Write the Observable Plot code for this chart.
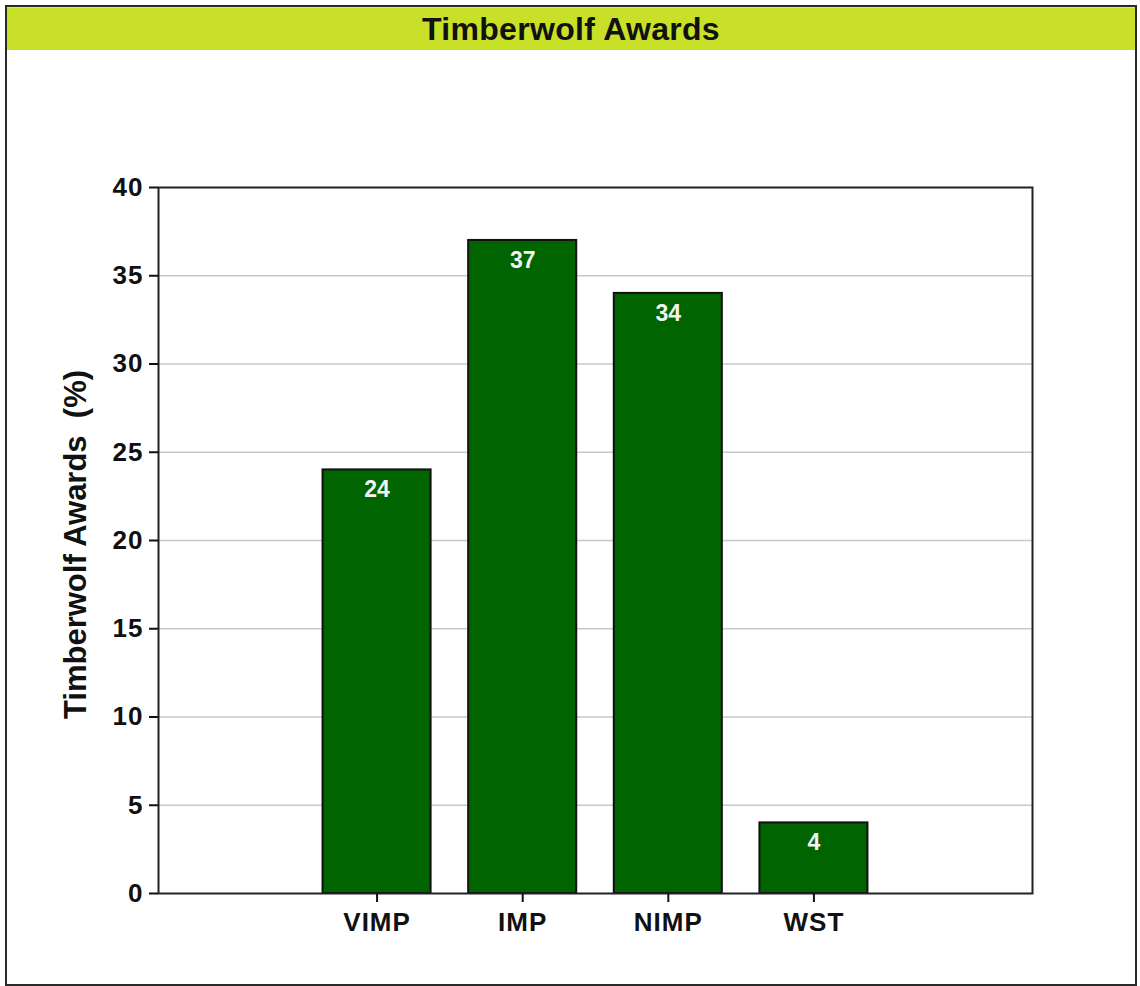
<!DOCTYPE html>
<html>
<head>
<meta charset="utf-8">
<script src="https://cdn.jsdelivr.net/npm/d3@7"></script>
<script src="https://cdn.jsdelivr.net/npm/@observablehq/plot@0.6"></script>
<style>
  html, body { margin: 0; padding: 0; background: #fff; }
  #wrap { position: relative; width: 1140px; height: 986px; overflow: hidden; }
  #box { position: absolute; left: 5px; top: 5px; width: 1128px; height: 977px; border: 2px solid #2a2a2a; background: #fff; }
  #title { position: absolute; left: 0; top: 0; width: 100%; height: 43px; background: #c8e028; border-top: 1px solid #d9ec6a; box-sizing: border-box;
           font: bold 32px "Liberation Sans", Arial, sans-serif; letter-spacing: 0.3px; color: #111; text-align: center; line-height: 43px; }
  #chart { position: absolute; left: 0; top: 43px; }
  g[aria-label="bar-label"] text { letter-spacing: 2px; }
  g[aria-label="y-axis tick label"] text, g[aria-label="x-axis tick label"] text { letter-spacing: 1px; }
</style>
</head>
<body>
<div id="wrap">
  <div id="box">
    <div id="title">Timberwolf Awards</div>
    <div id="chart"></div>
  </div>
</div>
<script>
const categories = ["VIMP", "IMP", "NIMP", "WST"];
const values = [24, 37, 34, 4];
const yTicks = [0, 5, 10, 15, 20, 25, 30, 35, 40];
const gridTicks = [5, 10, 15, 20, 25, 30, 35];
const yLabel = "Timberwolf Awards\u00a0 (%)";

const data = categories.map((c, i) => ({cat: c, value: values[i]}));

const chart = Plot.plot({
  width: 1128,
  height: 934,
  marginLeft: 151,
  marginRight: 103,
  marginTop: 137,
  marginBottom: 91,
  style: "background: transparent; overflow: visible; font-family: 'Liberation Sans', Arial, sans-serif; color: #111;",
  x: {domain: categories, paddingInner: 0.258, paddingOuter: 1.13, round: false, label: null},
  y: {domain: [0, 40], label: null},
  marks: [
    Plot.gridY(gridTicks, {stroke: "#c8c8c8", strokeOpacity: 1, strokeWidth: 1.5}),
    Plot.barY(data, {x: "cat", y: "value", fill: "#006400", stroke: "#111", strokeWidth: 2}),
    Plot.text(data, {x: "cat", y: "value", text: d => String(d.value), lineAnchor: "top", dy: 11, fill: "#f2f2f2", fontSize: 23, fontWeight: "bold", ariaLabel: "bar-label"}),
    Plot.frame({stroke: "#222", strokeWidth: 2}),
    Plot.axisY(yTicks, {tickSize: 9, tickPadding: 6, fontSize: 26, fontWeight: "bold", strokeWidth: 2, label: null, tickFormat: d => String(d)}),
    Plot.axisX({tickSize: 9, tickPadding: 10, fontSize: 26, fontWeight: "bold", strokeWidth: 2, label: null}),
    Plot.text([yLabel], {frameAnchor: "left", textAnchor: "middle", lineAnchor: "middle", dx: -82, dy: 4, rotate: -90, fontSize: 31, fontWeight: "bold", fill: "#111"})
  ]
});
document.getElementById("chart").appendChild(chart);
</script>
</body>
</html>
